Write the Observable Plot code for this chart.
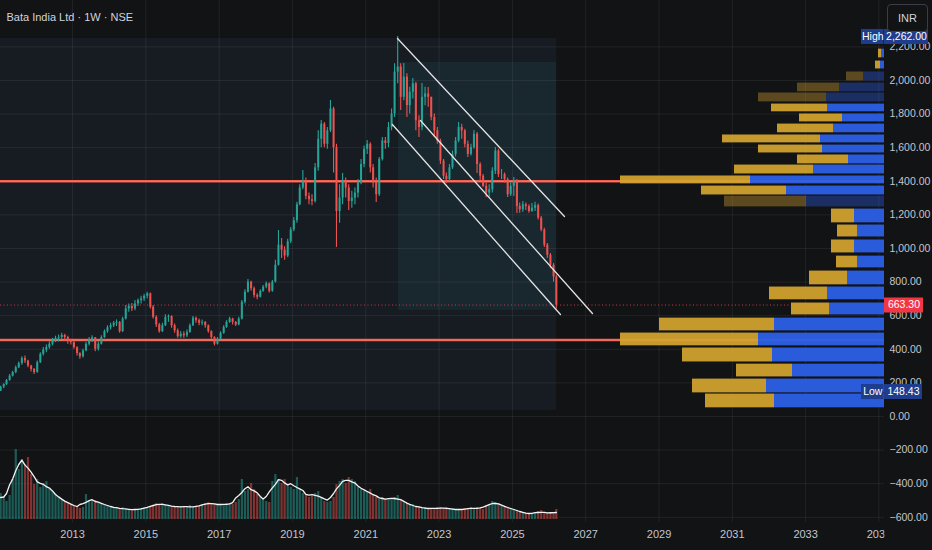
<!DOCTYPE html>
<html><head><meta charset="utf-8">
<script src="https://cdn.jsdelivr.net/npm/d3@7"></script>
<script src="https://cdn.jsdelivr.net/npm/@observablehq/plot@0.6"></script>
<style>
html,body{margin:0;padding:0;background:#121315;}
#chart{position:relative;width:932px;height:550px;background:#121315;overflow:hidden;font-family:'Liberation Sans',Arial,sans-serif;}
#chart svg{position:absolute;left:0;top:0;}
#inr{position:absolute;left:887px;top:4px;width:41px;height:28px;border:1px solid #3a3d45;border-radius:4px;color:#d1d4dc;font-size:11px;line-height:26px;text-align:center;box-sizing:border-box;z-index:10;background:#121315;}
</style></head><body>
<div id="chart"><div id="inr">INR</div></div>
<script>
// ---------------- DATA ----------------
const title = "Bata India Ltd · 1W · NSE";
const firstYear = 2011;           // monthly bars from Jan 2011
const firstOpen = 150;
const closes = [
  175,190,215,240,262,290,315,345,330,300,280,262,
  320,370,395,410,430,450,465,470,482,470,450,440,
  410,375,355,390,430,455,468,400,430,470,505,528,
  540,555,560,505,580,640,655,640,670,690,700,715,
  730,650,590,545,505,540,590,595,540,510,475,490,
  480,500,540,585,570,555,560,540,505,470,430,460,
  495,530,560,580,560,545,580,680,740,800,760,720,
  710,745,770,790,745,800,900,1020,990,955,1040,1110,
  1165,1260,1360,1400,1310,1290,1280,1480,1650,1740,1620,1700,
  1830,1600,1220,1300,1400,1360,1280,1300,1330,1390,1500,1590,
  1620,1480,1390,1320,1530,1640,1625,1720,1800,2050,2080,1900,
  2020,1850,1930,1980,1760,1720,1900,1920,1900,1780,1700,1640,
  1520,1430,1410,1480,1560,1640,1720,1700,1620,1560,1600,1680,
  1500,1430,1370,1330,1350,1460,1580,1440,1440,1410,1320,1370,
  1400,1250,1230,1260,1250,1220,1240,1255,1180,1110,1020,960,
  900,830,663.3
];
const highs = [
  180,195,220,250,270,300,325,355,360,335,305,285,
  330,380,410,425,445,465,478,485,495,490,478,460,
  445,415,380,400,440,470,480,470,445,480,515,540,
  555,565,575,565,590,660,670,672,690,700,715,728,
  740,735,660,600,555,555,605,605,600,550,520,505,
  505,515,550,595,592,580,575,565,545,510,475,470,
  505,540,570,590,585,565,590,690,755,815,805,770,
  730,755,780,800,795,810,930,1107,1060,1010,1055,1125,
  1185,1275,1380,1464,1420,1330,1320,1506,1700,1762,1750,1720,
  1881,1840,1620,1380,1446,1420,1380,1340,1360,1410,1530,1610,
  1643,1630,1500,1420,1542,1661,1660,1750,1830,2100,2262,2100,
  2101,2040,1960,2012,1990,1790,1982,1960,1958,1900,1800,1720,
  1650,1530,1450,1500,1580,1660,1750,1740,1710,1640,1620,1702,
  1690,1510,1440,1390,1380,1480,1601,1590,1470,1450,1420,1390,
  1423,1410,1270,1280,1270,1260,1268,1275,1265,1190,1120,1030,
  970,910,840
];
const lows = [
  148,165,185,210,235,255,285,305,315,290,265,250,
  258,315,360,380,400,420,440,445,455,450,430,425,
  400,360,340,348,385,420,440,385,390,425,465,495,
  515,530,535,495,500,575,620,625,630,655,670,685,
  700,640,580,530,495,500,535,560,525,495,465,465,
  465,470,495,535,555,540,540,525,495,460,420,425,
  455,490,525,555,545,535,540,575,670,735,745,705,
  695,705,740,760,735,740,795,895,940,930,945,1030,
  1100,1150,1255,1350,1290,1260,1255,1270,1460,1600,1600,1590,
  1690,1450,1006,1150,1260,1300,1226,1240,1260,1300,1380,1480,
  1560,1450,1360,1274,1310,1520,1590,1600,1700,1780,1980,1821,
  1880,1780,1800,1890,1700,1661,1700,1850,1840,1760,1660,1620,
  1500,1410,1387,1400,1470,1545,1630,1650,1600,1542,1550,1590,
  1446,1400,1363,1304,1305,1330,1440,1423,1410,1390,1304,1310,
  1310,1208,1210,1215,1226,1210,1215,1220,1170,1100,1006,940,
  880,800,640
];
const volumes = [
  26,22,18,24,40,70,50,60,55,62,45,35,
  40,32,36,38,30,28,25,22,20,18,17,15,
  14,13,11,12,25,18,20,19,17,16,15,14,
  13,12,11,11,12,10,10,10,9,10,11,11,
  12,13,14,16,15,16,15,14,13,13,12,13,
  13,12,14,12,12,13,15,16,17,16,15,15,
  15,14,16,16,15,17,20,40,28,30,36,30,
  25,22,20,18,17,38,45,40,36,40,35,32,
  30,42,30,26,25,22,23,26,28,22,18,17,
  18,22,35,38,40,36,42,40,38,32,30,28,
  28,30,24,22,20,22,20,21,19,22,24,19,
  18,16,14,15,13,12,11,12,11,11,10,12,
  12,11,12,10,11,10,9,10,11,10,12,11,
  12,11,10,14,15,18,17,16,14,13,12,11,
  10,9,8,7,6,6,5,6,8,9,7,6,
  6,5,10
];
const yearTicks = [2013,2015,2017,2019,2021,2023,2025,2027,2029,2031,2033,2035];
const priceTicks = [-600,-400,-200,0,200,400,600,800,1000,1200,1400,1600,1800,2000,2200];
const levels = [1400, 455];
const lastPrice = 663.30;
const highPrice = 2262.00;
const lowPrice = 148.43;

// drawn channel (three parallel lines)
const channelNames = ["upper", "middle", "lower"];
const channelStartDates = ["2021-11-13", "2022-06-30", "2021-09-23"];
const channelStartPrices = [2250, 1762, 1738];
const channelEndDates = ["2026-06-04", "2027-03-10", "2026-04-25"];
const channelEndPrices = [1190, 613, 607];

// shaded zones
const zoneStart = ["2010-06-01", "2021-11-23"];
const zoneEnd = ["2026-03-18", "2026-03-18"];
const zoneLow = [36, 631];
const zoneHigh = [2250, 2107];

// volume profile rows (price bins), sell = gold, buy = blue
const profLo   = [48,137,232,321,417,506,601,691,780,881,970,1065,1149,1244,1315,1381,1440,1500,1565,1625,1685,1750,1810,1869,1929,1994,2065,2131];
const profHi   = [137,226,315,411,500,589,679,774,869,958,1054,1143,1238,1315,1375,1435,1500,1560,1619,1679,1744,1804,1863,1929,1988,2054,2119,2190];
const profSell = [69,74,56,90,138,115,38,58,38,21,23,20,23,82,85,130,79,51,64,98,56,43,56,68,42,17,5,3];
const profBuy  = [110,118,92,112,126,110,55,57,37,27,30,27,30,78,98,134,71,36,62,64,51,42,57,58,45,21,4,3];
const profDim  = [0,0,0,0,0,0,0,0,0,0,0,0,0,1,0,0,0,0,0,0,0,0,0,1,1,1,0,0];

// ---------------- BUILD ----------------
const FONT = "'Liberation Sans',Arial,sans-serif";
const UP = "#26a69a", DOWN = "#ef5350";
const GOLD = "#d4a42f", BLUE = "#2b5fe6", NAVY = "#1f3d8c";
const utc = (y, m, d) => new Date(Date.UTC(y, m, d));
const candles = closes.map((c, i) => {
  const open = i === 0 ? firstOpen : closes[i - 1];
  return {date: utc(firstYear, i, 15), open, close: c, high: highs[i], low: lows[i], volume: volumes[i], color: c >= open ? UP : DOWN};
});
const yearDates = yearTicks.map(y => utc(y, 0, 1));
const channels = [];
channelNames.forEach((n, i) => {
  channels.push({name: n, date: new Date(channelStartDates[i]), price: channelStartPrices[i]});
  channels.push({name: n, date: new Date(channelEndDates[i]), price: channelEndPrices[i]});
});
const zones = zoneStart.map((s, i) => ({start: new Date(s), end: new Date(zoneEnd[i]), lo: zoneLow[i], hi: zoneHigh[i], fill: i === 0 ? "#161c22" : "#19272e"}));
const rows = profLo.map((lo, i) => ({lo, hi: profHi[i], sell: profSell[i], buy: profBuy[i], dim: profDim[i] === 1}));
const brightRows = rows.filter(r => !r.dim), dimRows = rows.filter(r => r.dim);

const xDomain = [utc(2011, 0, 14), utc(2035, 1, 26)];
const yDomain = [-631, 2476];
const baseStyle = {background: "transparent", color: "#c3c6ce", fontFamily: FONT, fontSize: "11px"};
const common = {width: 932, height: 550, marginLeft: 0, marginRight: 48, marginTop: 0, marginBottom: 28, style: baseStyle};

const main = Plot.plot({
  ...common,
  color: {type: "identity"},
  x: {type: "utc", domain: xDomain, ticks: yearDates, tickFormat: d => String(d.getUTCFullYear()), tickSize: 0, tickPadding: 8, label: null},
  y: {domain: yDomain, axis: null},
  marks: [
    Plot.rect(zones, {x1: "start", x2: "end", y1: "lo", y2: "hi", fill: "fill"}),
    Plot.ruleX(yearDates, {stroke: "#ffffff", strokeOpacity: 0.065}),
    Plot.ruleY(priceTicks, {stroke: "#ffffff", strokeOpacity: 0.065}),
    Plot.ruleY([lastPrice], {stroke: "#f23645", strokeWidth: 1, strokeDasharray: "1,2.5", strokeOpacity: 0.9}),
    Plot.ruleY(levels, {stroke: "#ee5748", strokeWidth: 2.6}),
    Plot.ruleY(levels, {stroke: "#ff9d8f", strokeWidth: 0.7, strokeOpacity: 0.8}),
    Plot.ruleX(candles, {x: "date", y1: "low", y2: "high", stroke: "color", strokeWidth: 1.1}),
    Plot.ruleX(candles, {x: "date", y1: "open", y2: "close", stroke: "color", strokeWidth: 2.1, strokeOpacity: 0.9}),
    Plot.line(channels, {x: "date", y: "price", z: "name", stroke: "#e3e3e3", strokeWidth: 1.3}),
    Plot.text([title], {text: d => d, frameAnchor: "top-left", dx: 6, dy: 13, fill: "#d1d4dc", fontSize: 11})
  ]
});

const volume = Plot.plot({
  ...common,
  color: {type: "identity"},
  x: {type: "utc", domain: xDomain, axis: null},
  y: {domain: [0, 119], range: [519, 400], axis: null},
  marks: [
    Plot.ruleX(candles, {x: "date", y1: 0, y2: "volume", stroke: "color", strokeWidth: 2.2, strokeOpacity: 0.5}),
    Plot.lineY(candles, Plot.windowY({k: 5, reduce: "mean"}, {x: "date", y: "volume", stroke: "#f2f2f2", strokeWidth: 1.3}))
  ]
});

const profile = Plot.plot({
  ...common,
  x: {domain: [0, 264], range: [884, 620], axis: null},
  y: {domain: yDomain, axis: null},
  marks: [
    Plot.rect(dimRows, {x1: 0, x2: "buy", y1: "lo", y2: "hi", fill: BLUE, fillOpacity: 0.38, insetTop: 0.6, insetBottom: 0.6}),
    Plot.rect(dimRows, {x1: "buy", x2: d => d.buy + d.sell, y1: "lo", y2: "hi", fill: GOLD, fillOpacity: 0.38, insetTop: 0.6, insetBottom: 0.6}),
    Plot.rect(brightRows, {x1: 0, x2: "buy", y1: "lo", y2: "hi", fill: BLUE, fillOpacity: 0.95, insetTop: 0.6, insetBottom: 0.6}),
    Plot.rect(brightRows, {x1: "buy", x2: d => d.buy + d.sell, y1: "lo", y2: "hi", fill: GOLD, fillOpacity: 0.93, insetTop: 0.6, insetBottom: 0.6})
  ]
});

const fmt = d3.format(",.2f");
const tags = [
  {price: highPrice, label: "High", fill: NAVY, w: 44},
  {price: lastPrice, label: null, fill: "#f23645", w: 39},
  {price: lowPrice, label: "Low", fill: NAVY, w: 38}
];
const labelTags = tags.filter(t => t.label);
const axis = Plot.plot({
  width: 932, height: 550, marginLeft: 884, marginRight: 0, marginTop: 0, marginBottom: 0,
  style: baseStyle,
  color: {type: "identity"},
  x: {domain: [0, 48], axis: null},
  y: {domain: yDomain, range: [522, 0], axis: null},
  marks: [
    Plot.frame({fill: "#121315", stroke: null}),
    Plot.text(priceTicks, {y: d => d, text: d => fmt(d), frameAnchor: "left", dx: 5, textAnchor: "start", fill: "#c3c6ce", fontSize: 10.5}),
    Plot.ruleY(tags, {y: "price", x1: 0, x2: "w", stroke: "fill", strokeWidth: 15}),
    Plot.text(tags, {y: "price", x: d => d.w / 2, text: d => fmt(d.price), fill: "#ffffff", fontSize: 10.5}),
    Plot.ruleY(labelTags, {y: "price", x1: -23, x2: -0.5, stroke: "fill", strokeWidth: 15}),
    Plot.text(labelTags, {y: "price", x: -11.7, text: "label", fill: "#ffffff", fontSize: 10.5})
  ]
});

const chart = document.getElementById("chart");
const inr = document.getElementById("inr");
[main, volume, profile, axis].forEach(svg => chart.insertBefore(svg, inr));
</script>
</body></html>
